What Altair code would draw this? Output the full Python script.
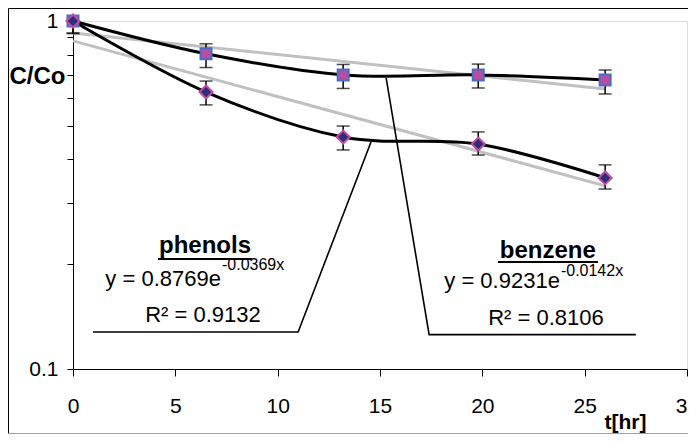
import altair as alt
import pandas as pd

# ---- data ----
t_hr = [0, 6.5, 13.2, 19.8, 26]
benzene = [1.0, 0.805, 0.700, 0.700, 0.677]
benzene_lo = [0.924, 0.735, 0.640, 0.642, 0.617]
benzene_hi = [1.0, 0.860, 0.750, 0.752, 0.723]
phenols = [1.0, 0.625, 0.464, 0.443, 0.354]
phenols_lo = [0.92, 0.574, 0.426, 0.412, 0.329]
phenols_hi = [1.0, 0.672, 0.499, 0.480, 0.386]

trend_t = [0, 26]
benzene_trend = [0.923, 0.638]
phenols_trend = [0.877, 0.336]

y_ticks = [0.1, 0.2, 0.3, 0.4, 0.5, 0.6, 0.7, 0.8, 0.9, 1.0]
x_ticks = [0, 5, 10, 15, 20, 25, 30]

# annotation anchors (data units)
leader_id = ["p", "p", "p", "b", "b", "b"]
leader_seq = [0, 1, 2, 0, 1, 2]
leader_t = [14.56, 11.0, 0.98, 15.3, 17.4, 27.5]
leader_c = [0.449, 0.1278, 0.1278, 0.686, 0.1255, 0.1255]

name_text = ["phenols", "benzene"]
name_t = [6.45, 23.2]
name_c = [0.2154, 0.2084]
uline_t1 = [4.15, 20.76]
uline_t2 = [8.74, 25.65]
uline_c = [0.2071, 0.2030]

eq_text = ["y = 0.8769e", "y = 0.9231e"]
eq_t = [7.23, 23.79]
eq_c = [0.1734, 0.1710]
sup_text = ["-0.0369x", "-0.0142x"]
sup_c = [0.1925, 0.1850]
r2_text = ["R\u00b2 = 0.9132", "R\u00b2 = 0.8106"]
r2_t = [6.35, 23.11]
r2_c = [0.1365, 0.1338]

FONT = "Liberation Sans"
W, H = 614, 348

pts = pd.DataFrame({
    "t": t_hr * 2,
    "c": benzene + phenols,
    "lo": benzene_lo + phenols_lo,
    "hi": benzene_hi + phenols_hi,
    "s": ["benzene"] * 5 + ["phenols"] * 5,
})
caps = pd.DataFrame({
    "t": t_hr * 4,
    "c": benzene_lo + benzene_hi + phenols_lo + phenols_hi,
})
trend = pd.DataFrame({
    "t": trend_t * 2,
    "c": benzene_trend + phenols_trend,
    "s": ["benzene"] * 2 + ["phenols"] * 2,
})
leaders = pd.DataFrame({"id": leader_id, "k": leader_seq, "t": leader_t, "c": leader_c})
names = pd.DataFrame({"txt": name_text, "t": name_t, "c": name_c})
ulines = pd.DataFrame({"t": uline_t1, "t2": uline_t2, "c": uline_c})
eqs = pd.DataFrame({"txt": eq_text, "t": eq_t, "c": eq_c})
sups = pd.DataFrame({"txt": sup_text, "t": eq_t, "c": sup_c})
r2s = pd.DataFrame({"txt": r2_text, "t": r2_t, "c": r2_c})

xs = alt.Scale(domain=[0, 30], nice=False, zero=False)
ys = alt.Scale(type="log", domain=[0.1, 1], nice=False)

xaxis = alt.Axis(
    values=x_ticks, title="t[hr]", grid=False,
    tickSize=7, tickColor="black", domainColor="black",
    labelFontSize=21, labelPadding=19, labelColor="black", labelFont=FONT,
    titleFont=FONT, titleFontSize=21, titleFontWeight="bold", titleColor="black",
    titleX=552, titleY=53, titleAlign="center", titleBaseline="middle",
    labelFlush=False, labelOverlap=False,
)
yaxis = alt.Axis(
    values=y_ticks, title="C/Co", grid=False,
    tickSize=6, tickColor="black", domainColor="black",
    labelFontSize=21, labelPadding=9, labelColor="black", labelFont=FONT,
    labelExpr="datum.value > 0.99 ? '1' : (datum.value < 0.1001 ? '0.1' : '')",
    titleFont=FONT, titleFontSize=24, titleFontWeight="bold", titleColor="black",
    titleAngle=0, titleX=-8, titleY=55, titleAlign="right", titleBaseline="middle",
    labelFlush=False, labelOverlap=False,
)

def X(f="t"):
    return alt.X(f, type="quantitative", scale=xs, axis=xaxis)

def Y(f="c"):
    return alt.Y(f, type="quantitative", scale=ys, axis=yaxis)

trend_l = alt.Chart(trend).mark_line(color="#c0c0c0", strokeWidth=3).encode(
    x=X(), y=Y(), detail="s:N")
curve_l = alt.Chart(pts).mark_line(color="black", strokeWidth=3, interpolate="cardinal").encode(
    x=X(), y=Y(), detail="s:N")
leader_l = alt.Chart(leaders).mark_line(color="black", strokeWidth=1.6).encode(
    x=X(), y=Y(), detail="id:N", order="k:Q")
uline_l = alt.Chart(ulines).mark_rule(color="black", strokeWidth=2).encode(
    x=X(), x2="t2:Q", y=Y())
err_l = alt.Chart(pts).mark_rule(color="black", strokeWidth=1.5).encode(
    x=X(), y=Y("lo"), y2="hi:Q")
cap_l = alt.Chart(caps).mark_tick(color="black", orient="horizontal", size=13, thickness=1.5).encode(
    x=X(), y=Y())
sq_l = alt.Chart(pts).transform_filter("datum.s == 'benzene'").mark_point(
    shape="square", filled=True, fill="#b4509f", stroke="#4a6cc4", strokeWidth=2,
    size=121, opacity=1).encode(x=X(), y=Y())
di_l = alt.Chart(pts).transform_filter("datum.s == 'phenols'").mark_point(
    shape="diamond", filled=True, fill="#2b2f78", stroke="#c04aa6", strokeWidth=2,
    size=169, opacity=1).encode(x=X(), y=Y())

name_l = alt.Chart(names).mark_text(font=FONT, fontSize=24, fontWeight="bold", align="center",
                                    baseline="alphabetic", color="black").encode(
    x=X(), y=Y(), text="txt:N")
eq_l = alt.Chart(eqs).mark_text(font=FONT, fontSize=22, align="right",
                                baseline="alphabetic", color="black").encode(
    x=X(), y=Y(), text="txt:N")
sup_l = alt.Chart(sups).mark_text(font=FONT, fontSize=16, align="left", dx=1,
                                  baseline="alphabetic", color="black").encode(
    x=X(), y=Y(), text="txt:N")
r2_l = alt.Chart(r2s).mark_text(font=FONT, fontSize=22, align="center",
                                baseline="alphabetic", color="black").encode(
    x=X(), y=Y(), text="txt:N")

one = pd.DataFrame({"a": [0]})
border_top = alt.Chart(one).mark_rule(color="black", strokeWidth=1).encode(
    x=alt.value(-64.5), x2=alt.value(620), y=alt.value(-12.5))
border_left = alt.Chart(one).mark_rule(color="black", strokeWidth=1).encode(
    x=alt.value(-64.5), y=alt.value(-12.5), y2=alt.value(412.5))
border_bot = alt.Chart(one).mark_rule(color="#a0a0a0", strokeWidth=1).encode(
    x=alt.value(-64.5), x2=alt.value(620), y=alt.value(412.5))

chart = alt.layer(
    trend_l, curve_l, leader_l, uline_l, err_l, cap_l, sq_l, di_l,
    name_l, eq_l, sup_l, r2_l, border_top, border_left, border_bot,
).properties(
    width=W, height=H,
    autosize=alt.AutoSizeParams(type="none"),
    padding={"left": 65, "top": 13, "right": 1, "bottom": 65},
    background="white",
).configure_view(
    stroke="#808080", strokeWidth=1
).configure(font=FONT)

chart.save("out.html", embed_options={"renderer": "svg", "actions": False})
